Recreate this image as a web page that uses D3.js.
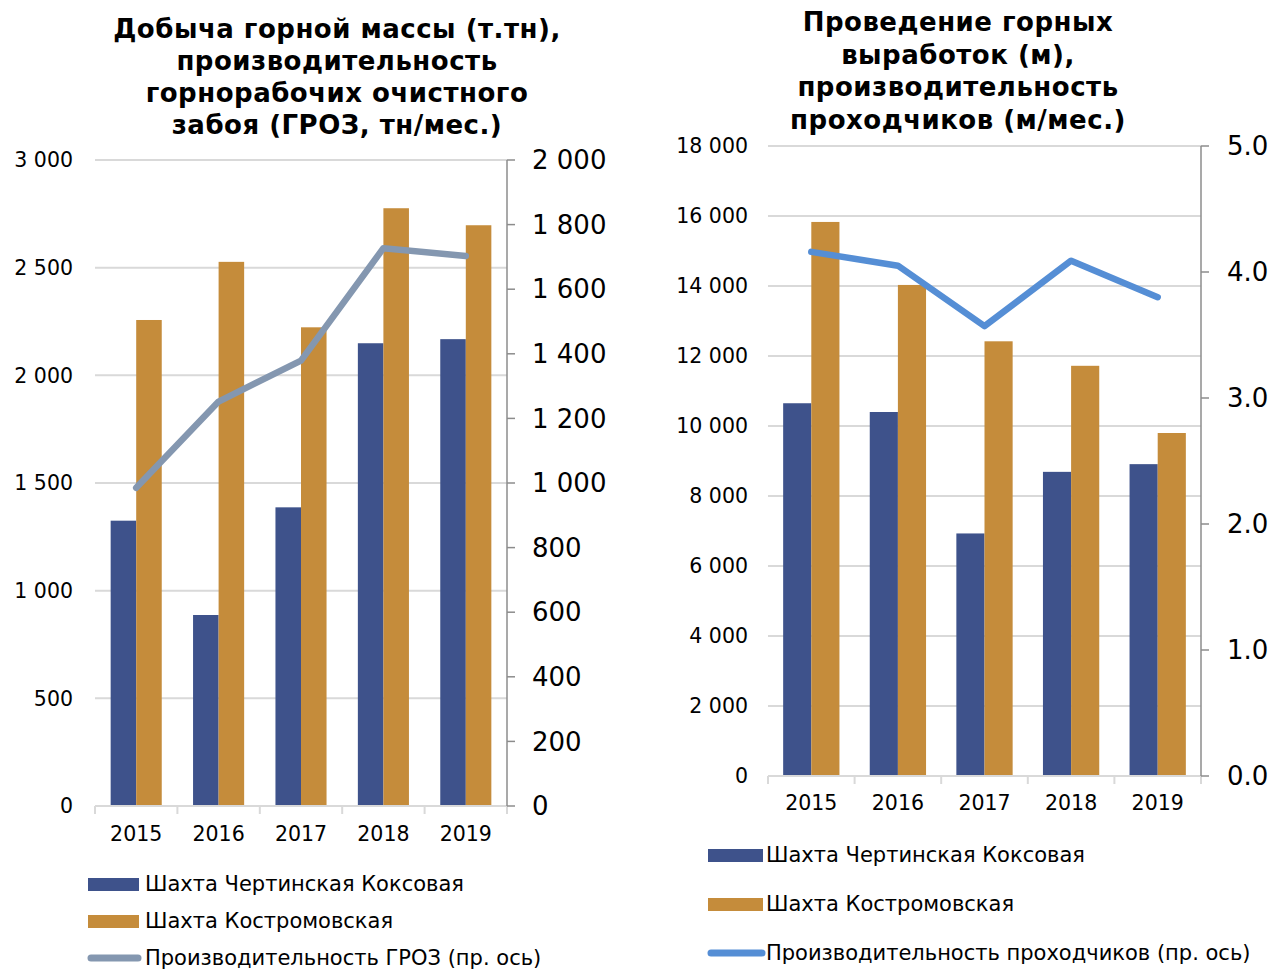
<!DOCTYPE html>
<html>
<head>
<meta charset="utf-8">
<script src="https://cdn.jsdelivr.net/npm/d3@7"></script>
<style>
  body { margin: 0; background: #fff; }
  svg text { fill: #000; }
</style>
</head>
<body>
<svg id="chart" width="1274" height="969"></svg>
<script>
// --------------- Data ---------------
const years = ["2015", "2016", "2017", "2018", "2019"];

// left chart: добыча горной массы (т.тн) и ГРОЗ
const massChertinskaya = [1325, 887, 1387, 2149, 2168];
const massKostromovskaya = [2257, 2527, 2223, 2776, 2697];
const grozProductivity = [985, 1252, 1379, 1727, 1703];
const massTicks = [0, 500, 1000, 1500, 2000, 2500, 3000];
const grozTicks = [0, 200, 400, 600, 800, 1000, 1200, 1400, 1600, 1800, 2000];

// right chart: проведение горных выработок (м) и производительность проходчиков
const drivingChertinskaya = [10650, 10400, 6930, 8690, 8910];
const drivingKostromovskaya = [15830, 14030, 12420, 11720, 9800];
const tunnelerProductivity = [4.16, 4.05, 3.57, 4.09, 3.8];
const drivingTicks = [0, 2000, 4000, 6000, 8000, 10000, 12000, 14000, 16000, 18000];
const tunnelerTicks = [0, 1, 2, 3, 4, 5];

const seriesNames = ["Шахта Чертинская Коксовая", "Шахта Костромовская"];

// --------------- Styles ---------------
const BLUE = "#3e528b";
const ORANGE = "#c58c3b";
const GRID = "#d9d9d9";
const LABEL_FONT = "'DejaVu Sans', Verdana, sans-serif";
const TITLE_FONT = "'DejaVu Sans', Verdana, sans-serif";

const svg = d3.select("#chart");
const spaced = (v) => d3.format(",")(v).replace(/,/g, " ");

function drawChart(cfg) {
  const g = svg.append("g");

  const x = d3.scaleBand().domain(years).range([cfg.x0, cfg.x1]).paddingInner(cfg.pad).paddingOuter(cfg.pad / 2);
  const band = d3.scaleBand().domain(years).range([cfg.x0, cfg.x1]);
  const yL = d3.scaleLinear().domain([0, d3.max(cfg.leftTicks)]).range([cfg.yBase, cfg.yTop]);
  const yR = d3.scaleLinear().domain([0, d3.max(cfg.rightTicks)]).range([cfg.yBase, cfg.yTop]);

  // gridlines
  g.append("g")
    .selectAll("line")
    .data(cfg.leftTicks.filter((d) => d > 0))
    .join("line")
    .attr("x1", cfg.x0)
    .attr("x2", cfg.x1)
    .attr("y1", (d) => yL(d))
    .attr("y2", (d) => yL(d))
    .attr("stroke", GRID)
    .attr("stroke-width", 2);

  // left tick labels
  g.append("g")
    .selectAll("text")
    .data(cfg.leftTicks)
    .join("text")
    .attr("x", cfg.leftLabelX)
    .attr("y", (d) => yL(d))
    .attr("dy", "0.35em")
    .attr("text-anchor", "end")
    .style("font-family", LABEL_FONT)
    .style("font-size", "20.5px")
    .text((d) => spaced(d));

  // bars
  const sub = d3.scaleBand().domain([0, 1]).range([0, x.bandwidth()]);
  const barData = [];
  years.forEach((yr, i) => {
    barData.push({ yr, k: 0, v: cfg.s1[i] });
    barData.push({ yr, k: 1, v: cfg.s2[i] });
  });
  g.append("g")
    .selectAll("rect")
    .data(barData)
    .join("rect")
    .attr("x", (d) => x(d.yr) + sub(d.k))
    .attr("width", sub.bandwidth())
    .attr("y", (d) => yL(d.v))
    .attr("height", (d) => cfg.yBase - yL(d.v))
    .attr("fill", (d) => (d.k === 0 ? BLUE : ORANGE));

  // x axis baseline with ticks between categories
  g.append("line")
    .attr("x1", cfg.x0)
    .attr("x2", cfg.x1)
    .attr("y1", cfg.yBase)
    .attr("y2", cfg.yBase)
    .attr("stroke", GRID)
    .attr("stroke-width", 2);
  g.append("g")
    .selectAll("line")
    .data(years.map((d) => band(d)).concat([cfg.x1]))
    .join("line")
    .attr("x1", (d) => d)
    .attr("x2", (d) => d)
    .attr("y1", cfg.yBase)
    .attr("y2", cfg.yBase + 8)
    .attr("stroke", GRID)
    .attr("stroke-width", 2);

  // category labels
  g.append("g")
    .selectAll("text")
    .data(years)
    .join("text")
    .attr("x", (d) => band(d) + band.bandwidth() / 2)
    .attr("y", cfg.catY)
    .attr("dy", "0.35em")
    .attr("text-anchor", "middle")
    .style("font-family", LABEL_FONT)
    .style("font-size", "20.5px")
    .text((d) => d);

  // right axis
  g.append("line")
    .attr("x1", cfg.x1)
    .attr("x2", cfg.x1)
    .attr("y1", cfg.yTop)
    .attr("y2", cfg.yBase)
    .attr("stroke", "#8c8c8c")
    .attr("stroke-width", 1.5);
  g.append("g")
    .selectAll("line")
    .data(cfg.rightTicks)
    .join("line")
    .attr("x1", cfg.x1)
    .attr("x2", cfg.x1 + 8)
    .attr("y1", (d) => yR(d))
    .attr("y2", (d) => yR(d))
    .attr("stroke", "#8c8c8c")
    .attr("stroke-width", 1.5);
  g.append("g")
    .selectAll("text")
    .data(cfg.rightTicks)
    .join("text")
    .attr("x", cfg.rightLabelX)
    .attr("y", (d) => yR(d))
    .attr("dy", "0.35em")
    .style("font-family", LABEL_FONT)
    .style("font-size", "26px")
    .text(cfg.rightFormat);

  // line series on right axis
  const line = d3
    .line()
    .x((d, i) => band(years[i]) + band.bandwidth() / 2)
    .y((d) => yR(d));
  g.append("path")
    .datum(cfg.line)
    .attr("d", line)
    .attr("fill", "none")
    .attr("stroke", cfg.lineColor)
    .attr("stroke-width", 6.5)
    .attr("stroke-linecap", "round")
    .attr("stroke-linejoin", "round");

  // title
  g.append("text")
    .attr("x", cfg.titleX)
    .attr("y", cfg.titleY)
    .attr("text-anchor", "middle")
    .style("font-family", TITLE_FONT)
    .style("font-weight", "bold")
    .style("font-size", "26px")
    .style("letter-spacing", "0.5px")
    .selectAll("tspan")
    .data(cfg.title)
    .join("tspan")
    .attr("x", cfg.titleX)
    .attr("dy", (d, i) => (i === 0 ? 0 : cfg.titleStep))
    .text((d) => d);

  // legend
  const legendItems = [
    { name: seriesNames[0], type: "bar", color: BLUE },
    { name: seriesNames[1], type: "bar", color: ORANGE },
    { name: cfg.lineName, type: "line", color: cfg.lineColor },
  ];
  const leg = g
    .append("g")
    .selectAll("g")
    .data(legendItems)
    .join("g")
    .attr("transform", (d, i) => `translate(${cfg.legX},${cfg.legY[i]})`);
  leg
    .filter((d) => d.type === "bar")
    .append("rect")
    .attr("x", 0)
    .attr("y", -6)
    .attr("width", cfg.legW)
    .attr("height", 13)
    .attr("fill", (d) => d.color);
  leg
    .filter((d) => d.type === "line")
    .append("line")
    .attr("x1", 3)
    .attr("x2", cfg.legW - 1)
    .attr("stroke", (d) => d.color)
    .attr("stroke-width", 7)
    .attr("stroke-linecap", "round");
  leg
    .append("text")
    .attr("x", cfg.legW + cfg.legGap)
    .attr("dy", "0.35em")
    .style("font-family", LABEL_FONT)
    .style("font-size", "21px")
    .text((d) => d.name);
}

drawChart({
  x0: 95,
  x1: 507,
  yTop: 160,
  yBase: 806,
  pad: 0.38,
  leftTicks: massTicks,
  rightTicks: grozTicks,
  rightFormat: (d) => spaced(d),
  s1: massChertinskaya,
  s2: massKostromovskaya,
  line: grozProductivity,
  lineColor: "#8497b0",
  lineName: "Производительность ГРОЗ (пр. ось)",
  leftLabelX: 73,
  rightLabelX: 532,
  catY: 834,
  title: [
    "Добыча горной массы (т.тн),",
    "производительность",
    "горнорабочих очистного",
    "забоя (ГРОЗ, тн/мес.)",
  ],
  titleX: 337,
  titleY: 38,
  titleStep: 32,
  legX: 88,
  legY: [884, 921, 958],
  legW: 51,
  legGap: 6,
});

drawChart({
  x0: 768,
  x1: 1201,
  yTop: 146,
  yBase: 776,
  pad: 0.35,
  leftTicks: drivingTicks,
  rightTicks: tunnelerTicks,
  rightFormat: (d) => d.toFixed(1),
  s1: drivingChertinskaya,
  s2: drivingKostromovskaya,
  line: tunnelerProductivity,
  lineColor: "#558ed5",
  lineName: "Производительность проходчиков (пр. ось)",
  leftLabelX: 748,
  rightLabelX: 1227,
  catY: 803,
  title: [
    "Проведение горных",
    "выработок (м),",
    "производительность",
    "проходчиков (м/мес.)",
  ],
  titleX: 958,
  titleY: 31,
  titleStep: 32.5,
  legX: 708,
  legY: [855, 904, 953],
  legW: 55,
  legGap: 3,
});
</script>
</body>
</html>
